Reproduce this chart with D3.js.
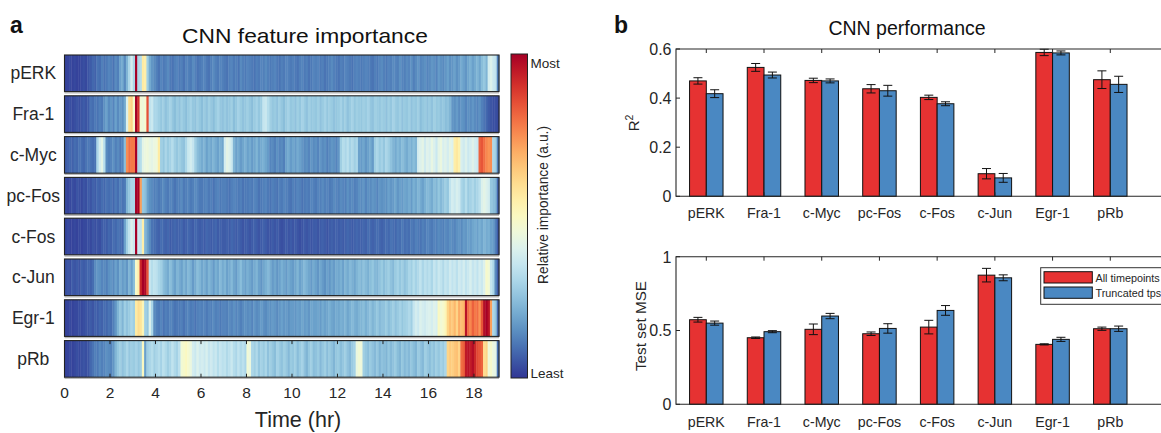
<!DOCTYPE html>
<html>
<head>
<meta charset="utf-8">
<script src="https://cdn.jsdelivr.net/npm/d3@7"></script>
<style>
  html, body { margin: 0; padding: 0; background: #fff; }
  svg { display: block; font-family: "Liberation Sans", Arial, sans-serif; }
</style>
</head>
<body>
<svg id="fig" width="1161" height="433"></svg>
<script>
// ---------- Panel a: feature importance per marker, 0.1 hr bins (0–19.1 hr), scale 0–100 ----------
const markers = ["pERK", "Fra-1", "c-Myc", "pc-Fos", "c-Fos", "c-Jun", "Egr-1", "pRb"];
const timeTicks = [0, 2, 4, 6, 8, 10, 12, 14, 16, 18];

const impPERK = [
  2,2,3,2,3,2,2,3,4,3, 5,6,8,7,10,9,12,10,11,13, 12,10,14,12,18,20,14,22,30,38,
  30,100,30,32,56,55,28,20,16,14, 12,10,13,11,12,14,11,10,12,13, 11,12,10,13,12,11,14,12,10,11,
  12,13,11,10,12,14,12,11,13,12, 11,10,12,13,11,12,10,14,12,11, 13,12,11,10,12,11,13,12,14,12,
  11,12,13,11,10,12,11,13,12,11, 12,11,10,12,13,11,12,10,11,13, 12,13,11,12,10,11,12,14,12,11,
  10,12,11,13,12,11,10,12,13,12, 11,12,13,12,11,10,12,11,13,14, 12,11,13,12,14,13,12,15,13,12,
  14,13,15,12,14,16,13,14,15,13, 14,16,15,13,17,15,14,16,18,15, 16,18,15,17,20,18,16,19,21,18,
  20,22,19,24,26,22,38,40,36,34, 12];
const impFra1 = [
  3,3,4,3,4,5,4,5,6,5, 6,10,9,11,10,12,11,15,18,14, 16,13,18,14,17,15,20,40,60,62,
  48,100,90,46,45,47,85,34,36,30, 30,28,26,28,25,27,29,26,24,27, 25,28,26,24,27,29,26,25,28,26,
  24,27,25,28,26,24,27,29,26,25, 27,25,26,28,24,26,29,27,25,26, 28,26,24,27,29,26,28,35,36,32,
  28,26,27,25,28,26,24,27,29,26, 27,25,28,26,29,27,25,28,26,27, 26,28,25,27,29,26,28,27,25,26,
  27,29,26,28,25,27,29,26,28,27, 26,28,27,29,26,25,28,27,26,28, 27,25,28,26,29,27,26,28,25,27,
  26,28,25,27,26,28,24,26,27,25, 27,25,28,26,27,25,26,24,25,22, 16,15,17,14,16,15,13,15,14,16,
  14,13,15,12,10,8,6,5,4,4, 3];
const impCMyc = [
  6,7,8,7,9,8,10,9,8,10, 11,10,9,10,30,38,42,32,14,12, 13,15,12,14,11,13,24,75,80,78,
  78,100,30,32,42,44,45,43,42,44, 45,56,28,26,30,27,29,32,28,26, 28,26,25,30,36,38,35,28,24,22,
  20,22,18,21,19,22,20,18,21,19, 38,42,40,36,22,18,20,17,19,21, 18,20,17,19,22,18,20,21,19,17,
  13,14,12,15,13,14,12,18,20,17, 19,17,20,18,16,14,15,13,16,14, 15,13,16,14,15,12,14,16,15,13,
  16,28,32,30,33,29,31,28,30,18, 17,19,16,18,20,17,28,30,27,29, 26,30,28,25,22,20,23,21,24,22,
  20,23,21,24,22,38,40,42,37,41, 39,43,40,36,42,44,39,41,38,42, 40,55,57,54,39,37,40,36,38,41,
  38,36,82,84,80,76,74,75,30,28, 12];
const impPcFos = [
  3,2,3,4,3,5,4,3,5,4, 6,5,7,6,8,7,9,8,10,9, 10,8,11,9,12,10,11,22,26,30,
  30,100,100,72,26,24,18,15,14,12, 13,11,12,14,12,11,13,12,10,12, 12,14,11,12,13,11,12,14,13,11,
  11,12,13,11,12,10,12,13,11,12, 12,11,10,12,13,12,11,12,10,11, 11,12,11,13,12,10,11,12,13,11,
  10,12,11,10,12,11,13,12,11,10, 12,11,13,12,10,11,12,11,13,12, 11,13,12,14,12,13,11,12,14,13,
  12,14,13,12,15,13,14,12,13,15, 14,16,13,15,14,16,15,13,16,15, 16,15,18,16,17,19,16,18,17,19,
  18,20,17,21,19,22,20,18,21,23, 22,20,24,22,26,23,25,28,26,34, 38,36,39,37,30,28,32,27,29,31,
  28,30,33,40,42,40,38,26,24,22, 8];
const impCFos = [
  2,3,2,2,3,2,3,2,3,3, 4,3,5,4,5,4,6,7,6,8, 7,9,8,10,9,8,18,28,34,40,
  36,100,36,34,55,22,18,14,10,9, 8,7,9,8,7,8,6,7,8,7, 7,8,6,7,8,7,6,8,7,6,
  7,6,8,7,6,7,8,6,7,6, 6,7,6,8,7,6,7,6,5,6, 6,5,6,7,6,5,6,7,6,5,
  5,6,5,6,5,4,5,6,5,6, 5,6,5,4,5,6,5,6,5,6, 6,5,6,7,6,5,6,7,6,7,
  6,7,6,7,8,7,6,7,8,7, 7,8,7,9,8,7,8,9,8,7, 8,9,8,10,9,8,10,9,11,9,
  10,9,11,10,12,11,10,12,11,13, 12,11,13,12,14,13,12,14,13,15, 14,13,15,16,14,17,16,18,17,19,
  20,18,21,19,22,20,21,18,17,12, 6];
const impCJun = [
  4,5,4,6,5,6,5,7,6,7, 8,7,9,14,16,15,13,14,12,15, 16,14,18,15,20,17,19,16,22,18,
  24,48,55,92,100,98,84,35,32,34, 33,30,28,24,22,20,24,21,18,22, 20,18,22,19,23,21,17,20,24,22,
  19,21,18,22,20,17,21,19,23,20, 22,18,20,23,19,17,21,24,20,18, 21,19,17,20,22,18,16,19,21,23,
  20,17,19,16,18,21,19,17,20,18, 17,19,22,18,20,23,21,19,17,20, 18,16,19,17,15,18,16,19,17,20,
  19,21,18,22,20,23,21,19,22,24, 22,25,23,21,24,26,23,22,25,27, 24,26,28,25,23,27,29,26,28,25,
  27,30,28,32,29,31,34,30,33,31, 33,30,35,32,36,34,31,35,33,37, 34,36,33,37,35,38,34,36,39,35,
  37,34,38,36,40,48,46,35,30,14, 6];
const impEgr1 = [
  2,2,3,2,3,3,4,3,4,5, 5,6,5,7,6,8,7,9,8,10, 9,12,16,22,26,22,28,25,27,30,
  28,56,60,58,52,28,26,40,30,14, 12,11,13,10,12,11,13,12,10,11, 11,12,10,12,13,11,12,10,12,13,
  12,13,11,13,12,14,12,13,11,13, 13,12,14,13,15,13,14,12,14,15, 14,15,13,16,14,15,17,15,14,16,
  15,17,16,14,16,18,16,17,15,17, 17,16,18,17,19,17,18,16,19,18, 18,19,17,20,18,19,21,19,18,20,
  19,21,20,22,19,21,23,21,20,22, 22,24,21,23,25,22,24,26,23,25, 25,27,24,26,28,25,27,29,26,28,
  29,31,28,35,38,36,40,38,37,39, 40,38,41,39,50,46,48,52,62,66, 64,68,62,70,66,68,96,80,76,82,
  78,80,74,84,97,100,96,72,30,26, 8];
const impPRb = [
  2,2,3,2,3,4,3,4,5,4, 5,8,10,12,11,14,12,13,15,14, 13,16,22,26,28,25,27,30,26,28,
  27,29,26,28,50,18,28,30,32,28, 30,32,29,33,31,28,30,34,31,29, 33,46,48,50,47,44,38,36,40,37,
  38,36,39,35,37,34,36,32,35,33, 34,31,33,36,32,30,34,31,33,30, 46,44,30,28,31,26,29,27,30,25,
  28,26,24,29,27,25,28,26,23,27, 26,28,24,27,29,25,22,26,28,24, 25,27,23,26,28,24,27,25,22,26,
  27,24,26,28,25,23,27,29,44,46, 45,28,26,24,27,25,23,26,22,25, 24,22,26,23,25,27,24,22,26,23,
  25,23,26,24,22,27,25,23,28,26, 24,27,25,28,26,29,27,30,62,64, 63,65,66,62,80,82,95,96,94,97,
  92,86,84,82,60,62,45,48,44,42, 10];

const importance = [impPERK, impFra1, impCMyc, impPcFos, impCFos, impCJun, impEgr1, impPRb];
const binHours = 0.1;
const tMax = 19.1;

// ---------- Panel b: CNN performance ----------
const targets = ["pERK", "Fra-1", "c-Myc", "pc-Fos", "c-Fos", "c-Jun", "Egr-1", "pRb"];
const seriesNames = ["All timepoints", "Truncated tps"];
const r2All      = [0.470, 0.525, 0.472, 0.438, 0.403, 0.092, 0.586, 0.475];
const r2AllErr   = [0.013, 0.016, 0.009, 0.017, 0.009, 0.021, 0.013, 0.036];
const r2Trunc    = [0.418, 0.494, 0.470, 0.430, 0.377, 0.075, 0.584, 0.456];
const r2TruncErr = [0.016, 0.012, 0.008, 0.022, 0.008, 0.018, 0.008, 0.033];
const mseAll      = [0.573, 0.451, 0.508, 0.478, 0.523, 0.875, 0.406, 0.512];
const mseAllErr   = [0.016, 0.005, 0.036, 0.012, 0.046, 0.046, 0.004, 0.011];
const mseTrunc    = [0.550, 0.492, 0.598, 0.514, 0.636, 0.857, 0.440, 0.512];
const mseTruncErr = [0.014, 0.007, 0.018, 0.032, 0.033, 0.020, 0.014, 0.018];
const r2Ticks = [0, 0.2, 0.4, 0.6];
const mseTicks = [0, 0.5, 1];

const colRed = "#e63232";
const colBlue = "#4a88c2";
const axisCol = "#262626";
const textCol = "#262626";

const svg = d3.select("#fig");
const color = v => d3.interpolateRdYlBu(1 - v / 100);

// text helper: optional horizontal widening of the glyphs
function label(parent, x, y, str, size, opts = {}) {
  const sx = opts.sx || 1;
  const t = parent.append("text")
    .attr("transform", `translate(${x},${y}) scale(${sx},1)`)
    .attr("font-size", size).attr("fill", opts.fill || textCol)
    .attr("text-anchor", opts.anchor || "start")
    .text(str);
  if (opts.bold) t.attr("font-weight", "bold");
  return t;
}

// ---------- Heatmap ----------
const hx = d3.scaleLinear().domain([0, tMax]).range([64.5, 499]);
const rowTop0 = 55, rowPitch = 40.8, rowH = 36.6;
const heat = svg.append("g");

label(svg, 10, 33, "a", 23, { bold: true, fill: "#111" });
label(svg, 305, 43, "CNN feature importance", 20, { anchor: "middle", sx: 1.14, fill: "#111" });

importance.forEach((row, r) => {
  const y0 = rowTop0 + r * rowPitch;
  const g = heat.append("g");
  g.selectAll("rect").data(row).join("rect")
    .attr("x", (d, i) => hx(i * binHours))
    .attr("width", (d, i) => hx(Math.min(tMax, (i + 1) * binHours)) - hx(i * binHours) + 0.4)
    .attr("y", y0).attr("height", rowH)
    .attr("fill", d => color(d));
  // frame with a faint shadow line underneath
  g.append("line").attr("x1", hx(0)).attr("x2", hx(tMax)).attr("y1", y0 + rowH + 1.3).attr("y2", y0 + rowH + 1.3)
    .attr("stroke", "#b8b8b8").attr("stroke-width", 1.2);
  g.append("rect").attr("x", hx(0)).attr("y", y0).attr("width", hx(tMax) - hx(0)).attr("height", rowH)
    .attr("fill", "none").attr("stroke", "#222").attr("stroke-width", 1.1);
  label(svg, 33.3, y0 + rowH / 2 + 6, markers[r], 17.5, { anchor: "middle" });
});

// time axis on the last strip (inward ticks top and bottom)
const lastTop = rowTop0 + 7 * rowPitch, lastBot = lastTop + rowH;
const tAxis = svg.append("g");
timeTicks.forEach(t => {
  const x = hx(t);
  tAxis.append("line").attr("x1", x).attr("x2", x).attr("y1", lastBot).attr("y2", lastBot - 3.5)
    .attr("stroke", "#222").attr("stroke-width", 1);
  tAxis.append("line").attr("x1", x).attr("x2", x).attr("y1", lastTop).attr("y2", lastTop + 3.5)
    .attr("stroke", "#222").attr("stroke-width", 1);
  label(tAxis, x, 397.7, String(t), 15.5, { anchor: "middle" });
});
label(svg, 298, 426.5, "Time (hr)", 21.5, { anchor: "middle" });

// colour bar
const defs = svg.append("defs");
const grad = defs.append("linearGradient").attr("id", "impGrad")
  .attr("x1", 0).attr("y1", 1).attr("x2", 0).attr("y2", 0);
d3.range(0, 101, 5).forEach(v => grad.append("stop").attr("offset", v / 100).attr("stop-color", color(v)));
const cbX = 511, cbY = 54, cbW = 16.5, cbH = 324;
svg.append("rect").attr("x", cbX).attr("y", cbY).attr("width", cbW).attr("height", cbH)
  .attr("fill", "url(#impGrad)").attr("stroke", "#222").attr("stroke-width", 1);
label(svg, 530.5, 68, "Most", 13.5);
label(svg, 530.5, 378, "Least", 13.5);
svg.append("text").attr("transform", "translate(547.5,205) rotate(-90)").attr("text-anchor", "middle")
  .attr("font-size", 13.8).attr("fill", textCol).text("Relative importance (a.u.)");

// ---------- Bar charts ----------
label(svg, 614, 33, "b", 23, { bold: true, fill: "#111" });
label(svg, 907, 34.5, "CNN performance", 19.5, { anchor: "middle", fill: "#111" });

const bx = d3.scaleLinear().domain([0.475, 9.0]).range([676, 1168]);
const unit = bx(2) - bx(1);
const barW = 0.29 * unit;

function barPanel(yScale, ticks, tickFmt, all, allErr, trunc, truncErr, labelY) {
  const g = svg.append("g");
  const [y0, y1] = yScale.range();
  const xl = bx.range()[0], xr = bx.range()[1];
  const series = [
    { vals: all, errs: allErr, col: colRed, off: -barW },
    { vals: trunc, errs: truncErr, col: colBlue, off: 0 }
  ];
  series.forEach(s => {
    g.selectAll(null).data(s.vals).join("rect")
      .attr("x", (d, i) => bx(i + 1) + s.off)
      .attr("width", barW)
      .attr("y", d => yScale(d))
      .attr("height", d => yScale(0) - yScale(d))
      .attr("fill", s.col).attr("stroke", "#111").attr("stroke-width", 1);
  });
  series.forEach(s => {
    s.vals.forEach((v, i) => {
      const cx = bx(i + 1) + s.off + barW / 2;
      const lo = yScale(v - s.errs[i]), hi = yScale(v + s.errs[i]);
      g.append("line").attr("x1", cx).attr("x2", cx).attr("y1", lo).attr("y2", hi)
        .attr("stroke", "#111").attr("stroke-width", 1);
      [lo, hi].forEach(yy => g.append("line").attr("x1", cx - 4.5).attr("x2", cx + 4.5)
        .attr("y1", yy).attr("y2", yy).attr("stroke", "#111").attr("stroke-width", 1));
    });
  });
  // axes box (left, bottom, top)
  g.append("path").attr("d", `M${xr},${y1}H${xl}V${y0}H${xr}`)
    .attr("fill", "none").attr("stroke", axisCol).attr("stroke-width", 1.1);
  ticks.forEach(t => {
    const yy = yScale(t);
    g.append("line").attr("x1", xl).attr("x2", xl + 4).attr("y1", yy).attr("y2", yy)
      .attr("stroke", axisCol).attr("stroke-width", 1);
    label(g, xl - 4.5, yy + 5.8, tickFmt(t), 16, { anchor: "end" });
  });
  targets.forEach((c, i) => {
    const x = bx(i + 1);
    g.append("line").attr("x1", x).attr("x2", x).attr("y1", y0).attr("y2", y0 - 4)
      .attr("stroke", axisCol).attr("stroke-width", 1);
    g.append("line").attr("x1", x).attr("x2", x).attr("y1", y1).attr("y2", y1 + 4)
      .attr("stroke", axisCol).attr("stroke-width", 1);
    label(g, x, labelY, c, 14.2, { anchor: "middle" });
  });
  return g;
}

const yR2 = d3.scaleLinear().domain([0, 0.6]).range([196.3, 49]);
const yMse = d3.scaleLinear().domain([0, 1]).range([404.3, 256.7]);
barPanel(yR2, r2Ticks, d => d === 0 ? "0" : d3.format(".1f")(d), r2All, r2AllErr, r2Trunc, r2TruncErr, 217.5);
barPanel(yMse, mseTicks, d => d === 0 || d === 1 ? String(d) : d3.format(".1f")(d), mseAll, mseAllErr, mseTrunc, mseTruncErr, 427.3);

// y labels
const r2Label = svg.append("text").attr("transform", "translate(638.5,123) rotate(-90)")
  .attr("text-anchor", "middle").attr("font-size", 15).attr("fill", textCol);
r2Label.append("tspan").text("R");
r2Label.append("tspan").attr("font-size", 10.5).attr("dy", -6).text("2");
svg.append("text").attr("transform", "translate(645.5,326) rotate(-90)").attr("text-anchor", "middle")
  .attr("font-size", 15.3).attr("fill", textCol).text("Test set MSE");

// legend
const lg = svg.append("g");
lg.append("rect").attr("x", 1040.7).attr("y", 267.7).attr("width", 140).attr("height", 36.6)
  .attr("fill", "#fff").attr("stroke", "#333").attr("stroke-width", 1);
[colRed, colBlue].forEach((c, i) => {
  const yy = 271.7 + i * 15.3;
  lg.append("rect").attr("x", 1044).attr("y", yy).attr("width", 48.3).attr("height", 11.3)
    .attr("fill", c).attr("stroke", "#111").attr("stroke-width", 1);
  label(lg, 1095.5, yy + 10, seriesNames[i], 10.8);
});
</script>
</body>
</html>
